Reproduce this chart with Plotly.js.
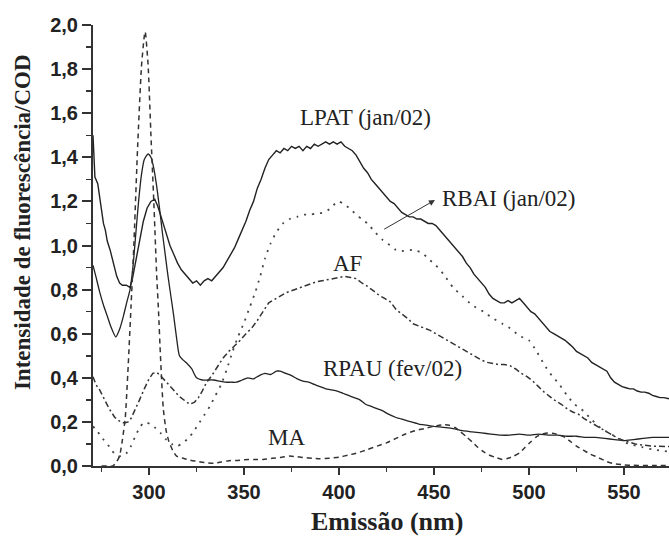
<!DOCTYPE html>
<html>
<head>
<meta charset="utf-8">
<script src="https://cdn.plot.ly/plotly-3.0.1.min.js"></script>
<style>html,body{margin:0;padding:0;background:#fff;}#chart{width:669px;height:538px;}</style>
</head>
<body>
<div id="chart"></div>
<script>
// ---- Data ----
const lpatX = [270.5,271.5,273,274.5,276,277,278,279.5,281,283,284.5,286,288,290,291.5,293,295,297,299,301,303,304.5,306,307.5,309.5,311,313,315,317,319,321,323,325,327,329,331,333,335,337,339,341,343,345,347,349,351,353,355,357,359,361,363,365,367,369,371,373,375,377,379,381,383,385,387,389,391,393,395,397,399,401,403,405,407,409,411,413,415,417,419,421,423,425,427,429,431,433,435,437,439,441,443,445,447,449,451,453,455,457,459,461,463,465,467,469,471,473,475,477,479,481,483,485,487,489,491,493,495,497,499,501,503,505,507,509,511,513,515,517,519,521,523,525,527,529,531,533,535,537,539,541,543,545,547,549,551,553,555,557,559,561,563,565,567,569,571,573.7];
const lpatY = [1.50,1.31,1.28,1.20,1.10,1.07,1.02,0.98,0.93,0.86,0.83,0.82,0.82,0.81,0.86,0.93,1.03,1.11,1.17,1.20,1.21,1.18,1.14,1.10,1.05,1.00,0.96,0.92,0.89,0.87,0.85,0.83,0.84,0.82,0.84,0.85,0.84,0.86,0.88,0.90,0.93,0.96,0.99,1.03,1.07,1.11,1.16,1.20,1.26,1.30,1.35,1.39,1.41,1.43,1.42,1.44,1.43,1.45,1.44,1.45,1.43,1.45,1.44,1.46,1.45,1.46,1.47,1.46,1.47,1.46,1.47,1.45,1.44,1.43,1.41,1.38,1.35,1.33,1.30,1.28,1.26,1.24,1.22,1.20,1.19,1.17,1.15,1.14,1.13,1.13,1.12,1.12,1.11,1.10,1.10,1.09,1.07,1.05,1.03,1.01,0.99,0.97,0.95,0.92,0.90,0.87,0.85,0.83,0.81,0.78,0.76,0.75,0.74,0.74,0.75,0.74,0.75,0.76,0.74,0.72,0.70,0.69,0.67,0.65,0.63,0.61,0.60,0.59,0.58,0.57,0.555,0.54,0.52,0.51,0.50,0.49,0.47,0.46,0.45,0.44,0.43,0.40,0.38,0.37,0.36,0.355,0.35,0.35,0.34,0.335,0.335,0.33,0.32,0.315,0.31,0.31,0.305];

const rpauX = [270.5,272,274,276,278,280,282.5,284.5,286.5,288.5,290,291.5,293,294.5,296,297.5,299.5,301,302.5,304,305.5,307,308.5,310,311.5,313,314.5,316,318,320,322.5,325,328,331,334,337,340,343,346,349,352,355,358,361,364,367,369,372,375,378,381,384,387,390,393,396,399,402,405,408,411,414,417,420,423,426,430,434,438,442,446,450,455,460,465,470,475,480,485,490,495,500,505,510,515,520,525,530,535,540,545,550,555,560,565,570,573.7];
const rpauY = [0.91,0.86,0.79,0.73,0.68,0.63,0.585,0.62,0.68,0.75,0.80,0.90,1.05,1.20,1.32,1.39,1.415,1.40,1.35,1.27,1.17,1.06,0.96,0.86,0.77,0.68,0.58,0.50,0.48,0.465,0.44,0.40,0.39,0.39,0.39,0.385,0.38,0.38,0.38,0.39,0.40,0.395,0.41,0.42,0.415,0.43,0.43,0.42,0.41,0.395,0.385,0.38,0.37,0.36,0.35,0.345,0.34,0.33,0.32,0.31,0.30,0.28,0.27,0.26,0.25,0.235,0.22,0.21,0.20,0.19,0.185,0.18,0.175,0.17,0.16,0.155,0.15,0.145,0.14,0.14,0.145,0.14,0.145,0.14,0.14,0.135,0.135,0.13,0.13,0.125,0.12,0.115,0.12,0.125,0.13,0.13,0.13];

const maX = [275,278,281,283,284.5,286,287.5,289,290.5,292,294,296,297.5,298,299.5,301,302.5,304,305,306,307.5,309,310.5,312.5,314.5,318,321.5,326,330,334,338,342,346,350,355,360,365,370,374,378,382,386,390,395,400,405,410,415,420,425,430,435,440,445,450,455,458,461,464,467,470,473,476,479,482,486,489,492,495,498,501,504,507,510,513,516,519,522,525,528.6,532,536,541,545,550,555,560,565,573.7];
const maY = [0.0,0.0,0.0,0.02,0.045,0.12,0.22,0.45,0.72,1.00,1.45,1.81,1.95,1.97,1.82,1.50,1.20,0.87,0.70,0.50,0.26,0.16,0.11,0.07,0.045,0.035,0.027,0.02,0.015,0.012,0.018,0.024,0.025,0.028,0.03,0.03,0.035,0.04,0.045,0.042,0.038,0.035,0.033,0.035,0.04,0.05,0.06,0.075,0.09,0.105,0.125,0.145,0.16,0.17,0.18,0.187,0.185,0.175,0.155,0.133,0.11,0.085,0.065,0.05,0.04,0.03,0.035,0.045,0.06,0.085,0.11,0.133,0.145,0.15,0.148,0.14,0.13,0.11,0.09,0.072,0.055,0.04,0.02,0.01,0.005,0.003,0.002,0.002,0.002];

const afX = [270.5,272,274,276.5,279,282,285,287,289,290.5,292.5,295,297.5,300,302,304,306,308,310,313,316,319,321.5,324,326,328,330,333,336,339,342,345,348,351,354,357,360,363,366,369,372,375,378,381,384,388,391,394,397,400,403,406,409,412,415,418,421,424,427,430,433,436,439,442,445,448,451,454,457,460,463,466,469,472,475,478,481,484,487,490,493,496,499,502,505,508,511,514,517,520,523,526,529,532,535,538,541,544,547,550,553,556,560,565,573.7];
const afY = [0.405,0.37,0.345,0.30,0.26,0.22,0.20,0.195,0.20,0.215,0.25,0.30,0.35,0.395,0.42,0.425,0.41,0.39,0.37,0.34,0.315,0.295,0.28,0.29,0.31,0.34,0.375,0.41,0.45,0.49,0.52,0.545,0.57,0.60,0.625,0.66,0.70,0.74,0.755,0.77,0.785,0.795,0.805,0.815,0.825,0.835,0.84,0.845,0.85,0.855,0.86,0.855,0.85,0.83,0.815,0.795,0.775,0.76,0.745,0.71,0.69,0.67,0.645,0.635,0.625,0.615,0.60,0.585,0.57,0.555,0.54,0.525,0.51,0.495,0.48,0.47,0.465,0.46,0.46,0.455,0.44,0.42,0.405,0.385,0.36,0.335,0.315,0.295,0.28,0.26,0.245,0.235,0.215,0.20,0.185,0.17,0.155,0.14,0.125,0.115,0.108,0.10,0.095,0.09,0.088];

const rbaiX = [270.5,273,275.5,278,280.5,283,285.5,288,290.5,293,295.5,298,300.5,303,306,309,312,314.5,317,320,323,326,329,332,335,338,341,344,347,350,353,356,358.5,361,364,367,370.5,374,378,381,385,388,392,395,398,400,402,405.5,409,412,415,419,423,427,430,434,439,444,447,451,455,460,465,470,476,481,486,490,495,500,504,508,512,516,520,524,528.6,533,538,542.6,547,551,555,560,565,573.7];
const rbaiY = [0.18,0.155,0.125,0.10,0.07,0.045,0.045,0.057,0.09,0.14,0.18,0.20,0.19,0.175,0.15,0.12,0.10,0.088,0.10,0.12,0.15,0.19,0.23,0.27,0.32,0.37,0.44,0.52,0.59,0.65,0.72,0.79,0.86,0.94,1.01,1.06,1.10,1.12,1.13,1.14,1.14,1.145,1.15,1.165,1.19,1.20,1.19,1.17,1.14,1.12,1.10,1.06,1.025,1.00,0.98,0.975,0.98,0.965,0.94,0.91,0.87,0.81,0.77,0.73,0.70,0.67,0.645,0.625,0.59,0.57,0.52,0.46,0.41,0.37,0.32,0.28,0.25,0.21,0.17,0.148,0.125,0.105,0.095,0.085,0.075,0.065];

const seriesNames = ['LPAT (jan/02)','RPAU (fev/02)','MA','AF','RBAI (jan/02)'];
const xTitle = 'Emissão (nm)';
const yTitle = 'Intensidade de fluorescência/COD';

// ---- Traces ----
const ink = '#222';
const traces = [
  {x: lpatX, y: lpatY, name: seriesNames[0], mode: 'lines', line: {color: ink, width: 1.4}},
  {x: rpauX, y: rpauY, name: seriesNames[1], mode: 'lines', line: {color: ink, width: 1.3, shape: 'spline', smoothing: 0.6}},
  {x: maX, y: maY, name: seriesNames[2], mode: 'lines', line: {color: '#333', width: 1.5, dash: '5px,4px', shape: 'spline', smoothing: 0.5}},
  {x: afX, y: afY, name: seriesNames[3], mode: 'lines', line: {color: '#333', width: 1.5, dash: '6px,3px,2px,3px'}},
  {x: rbaiX, y: rbaiY, name: seriesNames[4], mode: 'lines', line: {color: '#444', width: 1.8, dash: '2px,6px', shape: 'spline', smoothing: 0.5}}
];

const serif = 'Liberation Serif, Times New Roman, serif';
const sans = 'Liberation Sans, Arial, sans-serif';
const labelFont = {family: serif, size: 23, color: ink};
const tickFont = {family: sans, size: 20, color: ink, weight: 'bold'};

const layout = {
  width: 669, height: 538,
  margin: {l: 93, r: 0, t: 25, b: 72},
  paper_bgcolor: '#fff', plot_bgcolor: '#fff',
  showlegend: false,
  separators: ',.',
  xaxis: {
    range: [270.5, 573.7], tick0: 300, dtick: 50,
    showgrid: false, zeroline: false,
    showline: true, linecolor: '#333', linewidth: 2,
    ticks: 'outside', ticklen: 7, tickwidth: 2, tickcolor: '#333',
    minor: {dtick: 25, tick0: 300, ticks: 'outside', ticklen: 4, tickwidth: 1.5, tickcolor: '#333'},
    tickfont: tickFont
  },
  yaxis: {
    range: [0, 2.0], tick0: 0, dtick: 0.2, tickformat: '.1f',
    showgrid: false, zeroline: false,
    showline: true, linecolor: '#333', linewidth: 2,
    ticks: 'outside', ticklen: 9, tickwidth: 2, tickcolor: '#333',
    minor: {dtick: 0.1, ticks: 'outside', ticklen: 5, tickwidth: 1.5, tickcolor: '#333'},
    tickfont: tickFont
  },
  annotations: [
    // axis titles
    {x: 0.51, y: -0.125, xref: 'paper', yref: 'paper', yanchor: 'middle', text: '<b>' + xTitle + '</b>', showarrow: false,
     font: {family: serif, size: 26, color: ink}},
    {x: -0.1233, y: 0.553, xref: 'paper', yref: 'paper', xanchor: 'center', yanchor: 'middle', textangle: -90, text: '<b>' + yTitle + '</b>', showarrow: false,
     font: {family: serif, size: 23, color: ink}},
    // curve labels
    {x: 413.7, y: 1.58, xref: 'x', yref: 'y', text: seriesNames[0], showarrow: false, font: labelFont},
    {x: 453.1, y: 1.215, xref: 'x', yref: 'y', xanchor: 'left', text: seriesNames[4], showarrow: false, font: labelFont},
    {x: 450.5, y: 1.206, xref: 'x', yref: 'y', ax: 423, ay: 1.07, axref: 'x', ayref: 'y', text: '', showarrow: true, arrowhead: 2, arrowsize: 1.2, arrowwidth: 1, arrowcolor: '#333'},
    {x: 404.7, y: 0.92, xref: 'x', yref: 'y', text: seriesNames[3], showarrow: false, font: labelFont},
    {x: 428.1, y: 0.444, xref: 'x', yref: 'y', text: seriesNames[1], showarrow: false, font: labelFont},
    {x: 372.3, y: 0.13, xref: 'x', yref: 'y', text: seriesNames[2], showarrow: false, font: labelFont}
  ]
};

Plotly.newPlot('chart', traces, layout, {displayModeBar: false, staticPlot: true});
</script>
</body>
</html>
